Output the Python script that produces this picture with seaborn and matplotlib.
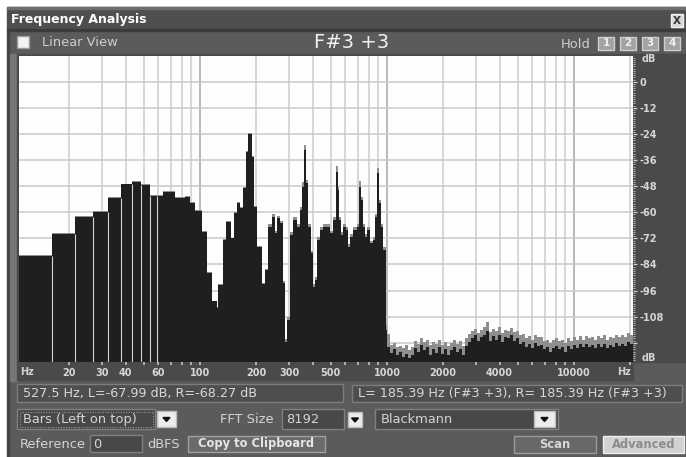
import numpy as np
import matplotlib
matplotlib.use("Agg")
import matplotlib.pyplot as plt
from matplotlib.patches import Rectangle, Polygon
from matplotlib.ticker import MultipleLocator
import seaborn as sns

# --- spectrum --------------------------------------------------------------
# bar edges in Hz up to 1 kHz (lowest ones are single FFT bins, 44.1 kHz / 8192)
edge_hz = [10.77, 16.1, 21.5, 26.9, 32.3, 37.7, 43.1, 48.4, 53.8, 59.2,
           63.6, 73.5, 83.1, 88.4, 94.0, 102.1, 108.6, 115.5, 122.8, 125.3,
           132.2, 137.7, 146.0, 152.0, 158.3, 163.7, 170.4, 176.2, 181.3, 189.1,
           194.4, 202.5, 213.8, 222.7, 231.9, 241.8, 251.8, 257.1, 267.8, 279.0,
           284.8, 290.8, 302.9, 315.5, 329.0, 342.6, 352.5, 361.3, 368.9, 379.5,
           390.8, 403.5, 412.1, 424.0, 438.2, 456.4, 495.7, 516.3, 533.8, 545.1,
           555.9, 567.5, 583.9, 603.5, 620.9, 634.1, 660.4, 688.6, 708.4, 726.1,
           741.5, 762.8, 784.7, 811.2, 838.6, 862.7, 881.0, 903.0, 925.4, 955.4,
           987.8, 1000]

# left channel (drawn on top) and right channel, dB
left_db = [-80.1, -70.0, -62.3, -60.0, -53.6, -47.2, -46.1, -47.6, -52.4,
           -52.5, -50.5, -53.6, -52.8, -55.9, -59.3, -68.9, -88.0, -101.0, -104.0,
           -93.4, -72.7, -64.3, -72.0, -60.5, -55.9, -58.0, -49.0, -32.2, -24.0,
           -34.5, -57.4, -75.8, -93.0, -86.5, -66.6, -62.0, -69.7, -62.8, -65.1,
           -92.6, -119.5, -109.5, -70.4, -63.6, -66.6, -59.0, -48.3, -31.4, -46.7,
           -66.6, -78.9, -94.2, -91.1, -72.7, -68.2, -66.6, -69.7, -63.6, -41.4,
           -49.8, -63.6, -70.4, -66.6, -68.2, -75.8, -71.2, -68.2, -66.6, -48.3,
           -54.4, -66.6, -71.2, -68.2, -74.3, -72.7, -62.0, -42.1, -55.9, -66.6,
           -77.3, -114.0]

right_db = [-79.7, -69.6, -61.9, -59.6, -53.2, -46.8, -45.7, -47.2, -52.0,
            -52.1, -50.1, -53.2, -52.4, -55.5, -58.9, -68.5, -87.6, -100.6, -103.6,
            -93.0, -72.3, -63.9, -71.6, -60.1, -55.5, -57.6, -48.6, -31.8, -23.6,
            -34.1, -57.0, -75.4, -92.6, -86.1, -65.4, -60.8, -68.5, -61.6, -63.9,
            -91.4, -118.3, -108.3, -69.2, -62.4, -65.4, -57.8, -46.3, -28.9, -45.0,
            -65.4, -77.7, -93.0, -89.9, -71.5, -67.0, -65.4, -68.5, -62.4, -38.9,
            -48.3, -62.4, -69.2, -65.4, -67.0, -74.6, -70.0, -67.0, -65.4, -45.8,
            -52.9, -65.4, -70.0, -67.0, -73.1, -71.5, -60.8, -39.6, -54.4, -65.4,
            -76.1, -112.0]

# above 1 kHz: noise floor, one value per narrow display column up to top_hz
top_hz = 20700
noise_left_db = [-122.0, -124.5, -123.0, -125.5, -124.0, -126.5, -125.0, -127.0, -125.5, -122.5,
                 -124.0, -121.0, -123.5, -122.0, -125.5, -123.0, -124.5, -122.0, -125.0, -123.0,
                 -125.5, -123.5, -122.0, -124.0, -123.0, -125.5, -121.5, -119.5, -118.0, -116.5,
                 -119.0, -117.5, -116.5, -114.5, -119.0, -117.0, -118.5, -116.5, -119.5, -117.5,
                 -118.0, -116.5, -119.0, -118.0, -120.5, -119.5, -122.0, -120.5, -122.5, -120.0,
                 -121.5, -121.0, -123.0, -122.0, -124.0, -122.5, -121.5, -123.0, -122.0, -124.0,
                 -121.5, -123.0, -121.0, -122.5, -120.5, -122.0, -120.5, -122.0, -121.0, -122.5,
                 -120.5, -122.0, -120.5, -122.5, -121.0, -122.0, -120.0, -121.5, -120.5, -121.5,
                 -119.5, -120.5]
noise_right_db = [-116.0, -121.0, -120.0, -122.0, -121.5, -122.5, -121.0, -123.5, -122.0, -119.0,
                  -120.5, -118.0, -119.5, -118.5, -121.0, -119.5, -120.5, -118.5, -121.0, -119.5,
                  -121.5, -120.0, -118.5, -120.5, -119.0, -121.5, -118.0, -116.0, -114.5, -113.5,
                  -115.5, -114.0, -112.5, -110.5, -115.0, -113.5, -114.5, -112.5, -115.5, -114.0,
                  -114.5, -113.0, -115.0, -114.5, -116.5, -116.0, -118.0, -117.0, -118.5, -116.5,
                  -117.5, -117.5, -119.0, -118.5, -120.0, -118.5, -118.0, -119.0, -118.5, -120.0,
                  -118.0, -119.0, -117.5, -118.5, -117.0, -118.5, -117.0, -118.0, -117.5, -118.5,
                  -117.0, -118.0, -116.5, -118.5, -117.5, -118.0, -116.5, -117.5, -116.5, -117.5,
                  -115.5, -116.5]

x_tick_labels = {20: "20", 30: "30", 40: "40", 60: "60", 100: "100", 200: "200",
                 300: "300", 500: "500", 1000: "1000", 2000: "2000", 4000: "4000",
                 10000: "10000"}
db_ticks = [0, -12, -24, -36, -48, -60, -72, -84, -96, -108, -120]
db_labels = ["0", "-12", "-24", "-36", "-48", "-60", "-72", "-84", "-96", "-108", ""]

# ---------------------------------------------------------------------------
sns.set_style("white")
plt.rcParams["font.family"] = ["DejaVu Sans"]

PANEL = "#5b5b5b"
STRIP = "#4a4a4a"
FIELD = "#484848"
TXT = "#d4d4d4"
W, H = 686, 457
FLOOR = -140
N_SEPARATED = 9  # widest FFT bins show a thin gap between them

fig = plt.figure(figsize=(W / 100, H / 100), dpi=100, facecolor=PANEL)


def px_axes(x0, y0, x1, y1):
    return fig.add_axes([x0 / W, 1 - y1 / H, (x1 - x0) / W, (y1 - y0) / H])


# window chrome, drawn in pixel coordinates
bg = px_axes(0, 0, W, H)
bg.set_xlim(0, W)
bg.set_ylim(H, 0)
bg.axis("off")


def box(x0, y0, x1, y1, face, edge=None, lw=1.0, **kw):
    bg.add_patch(Rectangle((x0, y0), x1 - x0, y1 - y0, facecolor=face,
                           edgecolor=edge if edge else face, linewidth=lw, **kw))


def label(x, y, s, size=9.4, color=TXT, ha="left", weight="normal"):
    bg.text(x, y, s, fontsize=size, color=color, ha=ha, va="center", fontweight=weight)


def arrow_button(x0, y0, x1, y1):
    box(x0, y0, x1, y1, "#ececec", "#bdbdbd")
    cx, cy = (x0 + x1) / 2, (y0 + y1) / 2
    bg.add_patch(Polygon([(cx - 3.5, cy - 1.5), (cx + 3.5, cy - 1.5), (cx, cy + 2.5)],
                         closed=True, color="#111111"))


box(0, 0, W, 7, "white")
box(0, 0, 7, H, "white")
box(7, 7, W, 29, "#4f4f4f")
box(7, 7, W, 9, "#6e6e6e")
box(7, 29, W, 31, "#3b3b3b")
box(7, 31, 9, H, "#444444")
box(10, 54, 17, 381, "#767676")
label(11, 19, "Frequency Analysis", size=9, color="white", weight="bold")
box(671, 14, 683, 27, "#d6d6d6", "#f0f0f0")
label(677, 20.5, "X", size=7.5, color="#333333", ha="center", weight="bold")

box(17, 36, 29, 48, "#f2f2f2", "#9a9a9a")
label(42, 43, "Linear View", color="#cfcfcf")
label(352, 42, "F#3 +3", size=14, color="#f2f2f2", ha="center")
label(561, 44, "Hold", color="#cfcfcf")
for i, (x0, x1) in enumerate([(598, 614), (620, 636), (642, 658), (664, 680)]):
    box(x0, 37, x1, 50, "#a3a3a3", "#cfcfcf")
    label((x0 + x1) / 2, 43.5, str(i + 1), size=7.5, color="#f0f0f0", ha="center", weight="bold")

# axis strips
box(17, 54, W, 362, STRIP)
box(17, 362, 633, 380, STRIP)
label(642, 59, "dB", size=7, weight="bold")
label(642, 358, "dB", size=7, weight="bold")
label(27, 372, "Hz", size=7, ha="center", weight="bold")
label(624, 372, "Hz", size=7, ha="center", weight="bold")

# readout boxes
box(17, 384, 343, 402, "#4e4e4e", "#7c7c7c")
label(23, 393, "527.5 Hz, L=-67.99 dB, R=-68.27 dB", size=9.2, color="#d8d8d8")
box(352, 385, 682, 402, "#4e4e4e", "#7c7c7c")
label(358, 393.5, "L= 185.39 Hz (F#3 +3), R= 185.39 Hz (F#3 +3)", size=9.2, color="#d8d8d8")

# controls
box(17, 409, 155, 429, FIELD, "#808080")
box(20, 412, 153, 427, "none", "#a8a8a8", lw=0.7, linestyle=":")
label(23, 419.5, "Bars (Left on top)")
arrow_button(157, 411, 176, 427)
label(220, 419.5, "FFT Size")
box(282, 409, 344, 429, FIELD, "#808080")
label(286, 419.5, "8192")
arrow_button(348, 412, 362, 427)
box(375, 409, 558, 429, FIELD, "#808080")
label(381, 419.5, "Blackmann")
arrow_button(534, 411, 555, 427)

label(20, 444, "Reference")
box(90, 435, 142, 452, FIELD, "#808080")
label(93, 444, "0")
label(147, 444, "dBFS")
box(188, 436, 325, 452, "#6b6b6b", "#a0a0a0")
label(256.5, 444, "Copy to Clipboard", size=8.3, color="#e6e6e6", ha="center", weight="bold")
box(514, 436, 596, 453, "#686868", "#9a9a9a")
label(555, 444.5, "Scan", size=8.3, color="#d6d6d6", ha="center", weight="bold")
box(603, 436, 684, 453, "#d2d2d2", "#f0f0f0")
label(643.5, 444.5, "Advanced", size=8.3, color="#8c8c8c", ha="center", weight="bold")

# --- spectrum plot ----------------------------------------------------------
ax = px_axes(19, 56, 633, 362)
ax.set_facecolor("#fdfdfd")
ax.set_xscale("log")
ax.set_xlim(10.77, top_hz)
ax.set_ylim(-128.8, 11.8)

noise_edges = np.geomspace(1000, top_hz, len(noise_left_db) + 1)
all_edges = np.concatenate([edge_hz, noise_edges[1:]])
all_left = np.concatenate([left_db, noise_left_db])
all_right = np.concatenate([right_db, noise_right_db])

ax.stairs(all_right, all_edges, baseline=FLOOR, fill=True, color="#8e8e8e", zorder=2)
ax.stairs(all_left, all_edges, baseline=FLOOR, fill=True, color="#1f1f1f", zorder=3)
ax.vlines(edge_hz[1:N_SEPARATED + 1], FLOOR,
          np.minimum(left_db[:N_SEPARATED], left_db[1:N_SEPARATED + 1]),
          colors="#d4d4d4", linewidth=0.8, zorder=4)

decades = [100, 1000, 10000]
minor = [m * 10 ** e for e in (1, 2, 3, 4) for m in range(2, 10) if m * 10 ** e < top_hz]
ax.set_xticks(decades, labels=[x_tick_labels[d] for d in decades], fontweight="bold")
ax.set_xticks(minor, labels=[x_tick_labels.get(m, "") for m in minor], minor=True,
              fontweight="bold")
ax.set_yticks(db_ticks, labels=db_labels, fontweight="bold")
ax.yaxis.set_minor_locator(MultipleLocator(1))

ax.grid(which="major", axis="x", color="#a6a6a6", linewidth=1.1)
ax.grid(which="minor", axis="x", color="#cecece", linewidth=1.1)
ax.grid(which="major", axis="y", color="#c9c9c9", linewidth=1.1)
ax.set_axisbelow(True)

ax.tick_params(axis="x", which="both", bottom=True, top=False, direction="out",
               length=2, width=1.1, color="#cfcfcf", labelsize=7,
               labelcolor="#d6d6d6", pad=2)
ax.tick_params(axis="y", which="major", left=False, right=True, labelleft=False,
               labelright=True, direction="out", length=3, width=0.9,
               color="#cfcfcf", labelsize=7, labelcolor="#d6d6d6", pad=2)
ax.tick_params(axis="y", which="minor", left=False, right=True, direction="out",
               length=1.4, width=0.7, color="#b8b8b8")
for s in ax.spines.values():
    s.set_visible(False)

fig.savefig("out.png", dpi=100, facecolor=PANEL)
